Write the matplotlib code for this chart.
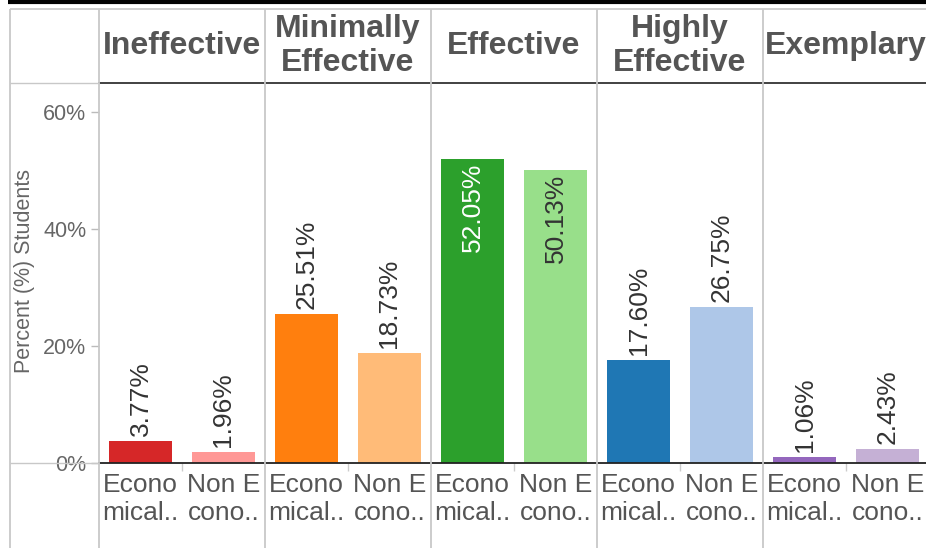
import numpy as np
import matplotlib
matplotlib.use("Agg")
import matplotlib.pyplot as plt
from matplotlib.lines import Line2D

plt.rcParams['font.family'] = ['Liberation Sans', 'DejaVu Sans']

levels = ['Ineffective', 'Minimally\nEffective', 'Effective', 'Highly\nEffective', 'Exemplary']
groups = ['Econo\nmical..', 'Non E\ncono..']
econ = [3.77, 25.51, 52.05, 17.60, 1.06]
non_econ = [1.96, 18.73, 50.13, 26.75, 2.43]
econ_colors = ['#d62728', '#ff7f0e', '#2ca02c', '#1f77b4', '#9467bd']
non_colors = ['#ff9896', '#ffbb78', '#98df8a', '#aec7e8', '#c5b0d5']

W, H = 926, 548
fig = plt.figure(figsize=(W / 100, H / 100), dpi=100)

def fx(x):
    return x / W

def fy(y):
    return 1 - y / H

# plot area in pixel terms: x 99..929, y 83..463
ax = fig.add_axes([fx(99), fy(463), 830 / W, 380 / H])

values = []
colors = []
for e, n, ce, cn in zip(econ, non_econ, econ_colors, non_colors):
    values += [e, n]
    colors += [ce, cn]
pos = np.arange(len(values))

ax.bar(pos, values, width=0.76, color=colors, edgecolor='none')

ymax = 64.96
for p, v in zip(pos, values):
    txt = '%.2f%%' % v
    if v > 47:
        col = 'white' if p % 2 == 0 else '#333333'
        ax.annotate(txt, (p, v), xytext=(0, -4), textcoords='offset pixels',
                    rotation=90, ha='center', va='top', fontsize=19, color=col)
    else:
        ax.annotate(txt, (p, v), xytext=(0, 5), textcoords='offset pixels',
                    rotation=90, ha='center', va='bottom', fontsize=19, color='#333333')

ax.set_xlim(-0.5, 9.5)
ax.set_ylim(0, ymax)

for s in ['left', 'right']:
    ax.spines[s].set_visible(False)
ax.spines['bottom'].set_color('#222222')
ax.spines['bottom'].set_linewidth(1.3)
ax.spines['top'].set_color('#333333')
ax.spines['top'].set_linewidth(1.3)

ax.set_yticks([0, 20, 40, 60])
ax.set_yticklabels(['0%', '20%', '40%', '60%'])
ax.tick_params(axis='y', length=6, width=1, color='#bbbbbb', pad=3,
               labelsize=15.5, labelcolor='#666666')

ax.set_xticks(pos)
ax.set_xticklabels(groups * 5)
ax.tick_params(axis='x', which='major', length=0, pad=7, labelsize=19,
               labelcolor='#555555')
ax.set_xticks(np.arange(0.5, 10, 2), minor=True)
ax.tick_params(axis='x', which='minor', length=6, width=1, color='#cccccc')

fig.text(fx(25), fy(271), 'Percent (%) Students', rotation=90, ha='center', va='center',
         fontsize=15.5, color='#666666')

# header labels
for i, lab in enumerate(levels):
    cx = 99 + 166 * i + 83
    fig.text(fx(cx), fy(46), lab, ha='center', va='center', fontsize=23,
             fontweight='bold', color='#555555', linespacing=1.15)

# frame lines
grey = '#c8c8c8'
def fline(x0, y0, x1, y1, color, lw):
    fig.add_artist(Line2D([fx(x0), fx(x1)], [fy(y0), fy(y1)], transform=fig.transFigure,
                          color=color, lw=lw, solid_capstyle='butt'))

for x in [99, 265, 431, 597, 763]:
    fline(x, 9, x, 548, grey, 1.3)
fline(10, 9, 10, 548, grey, 1.3)
fline(10, 9, 926, 9, grey, 1.3)
fline(10, 83, 99, 83, grey, 1.0)
fline(10, 463, 99, 463, grey, 1.0)
fline(8, 1.8, 926, 1.8, 'black', 3.0)

fig.savefig('out.png', dpi=100)
